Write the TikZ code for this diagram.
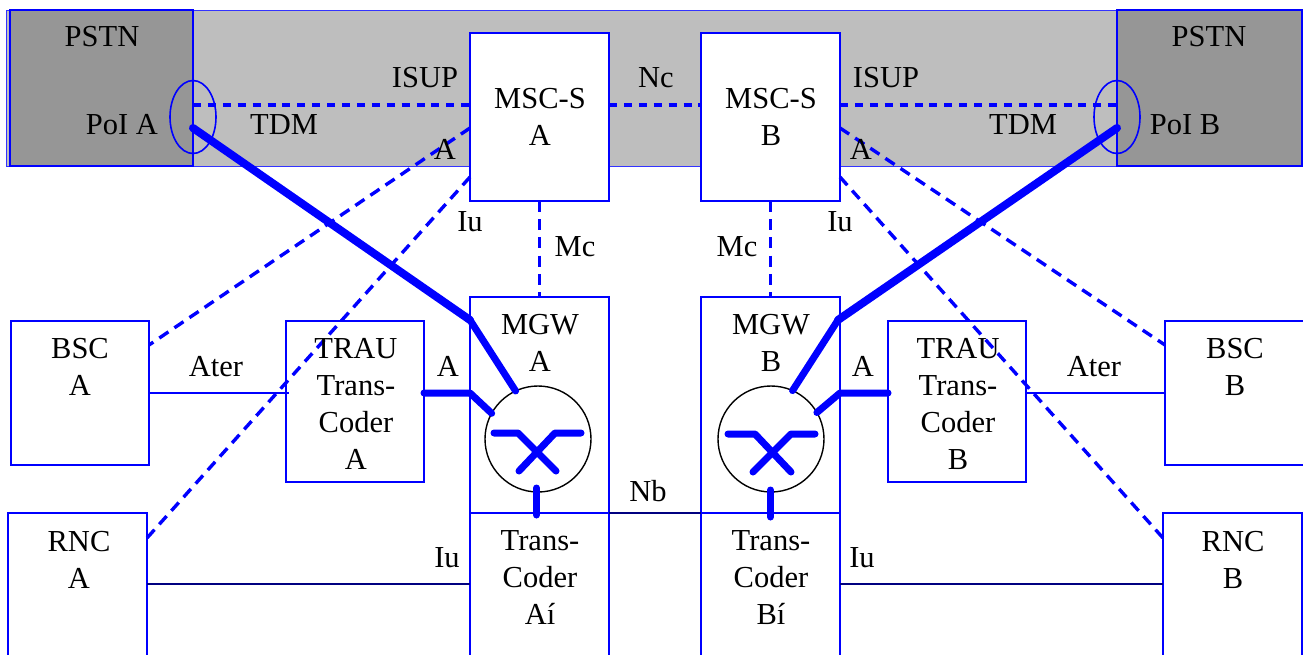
\documentclass[tikz,border=0pt]{standalone}
\usepackage{fontspec}
\setmainfont{Liberation Serif}
\usetikzlibrary{shapes.geometric}
\definecolor{bandgray}{HTML}{BEBEBE}
\definecolor{pstngray}{HTML}{969696}
\tikzstyle{every node} = [inner sep=0pt, outer sep=0pt, font=\fontsize{30.5}{37}\selectfont, align=center]
\tikzstyle{box} = [draw=blue, line width=1.6pt, fill=white]
\tikzstyle{pstnbox} = [draw=blue, line width=1.6pt, fill=pstngray, minimum width=185, minimum height=156]
\tikzstyle{sigbus} = [draw=blue, line width=4pt, dash pattern=on 8pt off 6.9pt]
\tikzstyle{sigdash} = [draw=blue, line width=3.4pt, dash pattern=on 11pt off 7.2pt]
\tikzstyle{voice} = [draw=blue, line width=7pt, line cap=round, line join=round]
\tikzstyle{wire} = [draw=blue, line width=2pt]
\tikzstyle{navywire} = [draw=blue!50!black, line width=2.4pt]

\begin{document}
\begin{tikzpicture}[x=1pt, y=-1pt]
        \clip (0,0) rectangle (1303,654);

        \node[draw=blue!80, line width=1pt, fill=bandgray, minimum width=1296, minimum height=156] (band) at (654,88) {};
        \node[pstnbox, minimum width=183] (pstna) at (101.5,88) {};
        \node[pstnbox] (pstnb) at (1209.5,88) {};
        \node[draw=blue, line width=1.6pt, ellipse, minimum width=46, minimum height=73] (poia) at (193,117) {};
        \node[draw=blue, line width=1.6pt, ellipse, minimum width=46, minimum height=73] (poib) at (1117,117) {};

        \node[box, minimum width=139, minimum height=168] (msca) at (539.5,117) {};
        \node[box, minimum width=139, minimum height=168] (mscb) at (770.5,117) {};
        \node[box, minimum width=139, minimum height=216] (mgwa) at (539.5,405) {};
        \node[box, minimum width=139, minimum height=216] (mgwb) at (770.5,405) {};
        \node[box, minimum width=139, minimum height=180] (tca) at (539.5,603) {};
        \node[box, minimum width=139, minimum height=180] (tcb) at (770.5,603) {};
        \node[box, minimum width=138, minimum height=144] (bsca) at (80,393) {};
        \node[box, minimum width=180, minimum height=144] (bscb) at (1255,393) {};
        \node[box, minimum width=139, minimum height=180] (rnca) at (77.5,603) {};
        \node[box, minimum width=139, minimum height=180] (rncb) at (1232.5,603) {};
        \node[box, minimum width=138, minimum height=161] (traua) at (355,401.5) {};
        \node[box, minimum width=138, minimum height=161] (traub) at (957,401.5) {};
        \node[draw=black, line width=1.4pt, circle, fill=white, minimum size=106] (swa) at (538,439) {};
        \node[draw=black, line width=1.4pt, circle, fill=white, minimum size=106] (swb) at (771,439) {};

        \draw[sigbus] ([yshift=-17pt]pstna.east) -- ([yshift=12pt]msca.west);
        \draw[sigbus] ([yshift=12pt]msca.east) -- ([yshift=12pt]mscb.west);
        \draw[sigbus] ([yshift=12pt]mscb.east) -- ([yshift=-17pt]pstnb.west);
        \draw[sigdash] (msca.south) -- (mgwa.north);
        \draw[sigdash] (mscb.south) -- (mgwb.north);
        \draw[sigdash] ([yshift=-11pt]msca.west) -- ([yshift=48pt]bsca.east);
        \draw[sigdash] ([yshift=-60pt]msca.west) -- ([yshift=65pt]rnca.east);
        \draw[sigdash] ([yshift=-11pt]mscb.east) -- ([yshift=48pt]bscb.west);
        \draw[sigdash] ([yshift=-60pt]mscb.east) -- ([yshift=65pt]rncb.west);

        \draw[wire] (bsca.east) -- ([xshift=3pt,yshift=8.5pt]traua.west);
        \draw[wire] ([yshift=8.5pt]traub.east) -- (bscb.west);
        \draw[navywire] ([yshift=19pt]rnca.east) -- ([yshift=19pt]tca.west);
        \draw[navywire] ([yshift=19pt]tcb.east) -- ([yshift=19pt]rncb.west);
        \draw[navywire] (mgwa.south east) -- (mgwb.south west);

        \draw[voice, line width=8pt] ([yshift=-11pt]poia.center) -- ([yshift=85pt]mgwa.west);
        \draw[voice] ([yshift=85pt]mgwa.west) -- (swa.115);
        \draw[voice, line width=8pt] ([yshift=-11pt]poib.center) -- ([xshift=-2pt,yshift=85pt]mgwb.east);
        \draw[voice] ([xshift=-2pt,yshift=85pt]mgwb.east) -- (swb.66);
        \draw[voice] ([yshift=8.5pt]traua.east) -- ([yshift=12pt]mgwa.west) -- (swa.151);
        \draw[voice] ([yshift=8.5pt]traub.west) -- ([yshift=12pt]mgwb.east) -- (swb.30);
        \draw[voice] ([xshift=-3pt,yshift=25pt]mgwa.south) -- ([xshift=-3pt,yshift=-2pt]mgwa.south);
        \draw[voice] ([yshift=23pt]mgwb.south) -- ([yshift=-4pt]mgwb.south);

        \draw[voice] ([xshift=-44pt,yshift=6pt]swa.center) -- ([xshift=-20pt,yshift=6pt]swa.center) -- ([xshift=18pt,yshift=-32pt]swa.center);
        \draw[voice] ([xshift=43pt,yshift=6pt]swa.center) -- ([xshift=17pt,yshift=6pt]swa.center) -- ([xshift=-19pt,yshift=-32pt]swa.center);
        \draw[voice] ([xshift=-43pt,yshift=5pt]swb.center) -- ([xshift=-16pt,yshift=5pt]swb.center) -- ([xshift=20pt,yshift=-33pt]swb.center);
        \draw[voice] ([xshift=44pt,yshift=5pt]swb.center) -- ([xshift=20pt,yshift=5pt]swb.center) -- ([xshift=-18pt,yshift=-33pt]swb.center);

        \node (tpstna) at (102,37) {PSTN};
        \node (tpstnb) at (1209,37) {PSTN};
        \node (tpoia) at (122,125) {PoI A};
        \node (tpoib) at (1185,125) {PoI B};
        \node (tisupa) at (425,78) {ISUP};
        \node (tisupb) at (886,78) {ISUP};
        \node (tnc) at (656,78) {Nc};
        \node (ttdma) at (284,125) {TDM};
        \node (ttdmb) at (1023,125) {TDM};
        \node (tmsca) at (540,117) {MSC-S\\A};
        \node (tmscb) at (771,117) {MSC-S\\B};
        \node (taa) at (445,149) {A};
        \node (tab) at (861,149) {A};
        \node (tiua) at (470,222) {Iu};
        \node (tiub) at (840,222) {Iu};
        \node (tmca) at (575,247) {Mc};
        \node (tmcb) at (737,247) {Mc};
        \node (tmgwa) at (540,343) {MGW\\A};
        \node (tmgwb) at (771,343) {MGW\\B};
        \node (tbsca) at (80,367) {BSC\\A};
        \node (tbscb) at (1235,367) {BSC\\B};
        \node (trnca) at (79,560) {RNC\\A};
        \node (trncb) at (1233,560) {RNC\\B};
        \node (ttraua) at (356,404) {TRAU\\Trans-\\Coder\\A};
        \node (ttraub) at (958,404) {TRAU\\Trans-\\Coder\\B};
        \node (tatera) at (216,367) {Ater};
        \node (taterb) at (1094,367) {Ater};
        \node (tala) at (448,366) {A};
        \node (talb) at (863,366) {A};
        \node (tnb) at (648,491) {Nb};
        \node (tiuc) at (447,558) {Iu};
        \node (tiud) at (862,558) {Iu};
        \node (ttca) at (540,578) {Trans-\\Coder\\Aí};
        \node (ttcb) at (771,578) {Trans-\\Coder\\Bí};
    \end{tikzpicture}
\end{document}
